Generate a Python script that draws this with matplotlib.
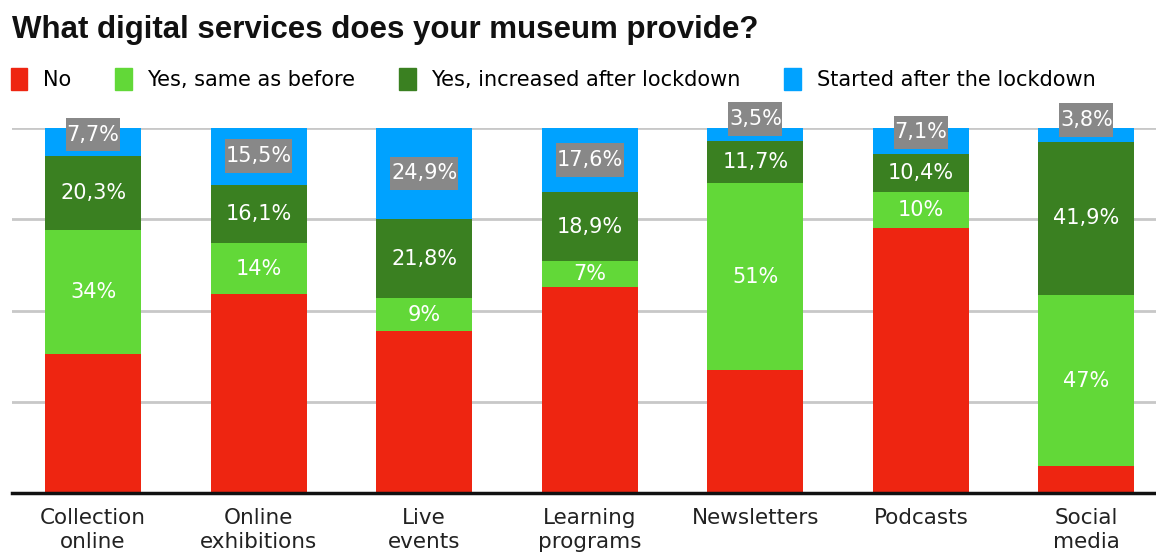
import matplotlib
matplotlib.use("Agg")
import matplotlib.pyplot as plt
from matplotlib.patches import Patch
from matplotlib.path import Path
import numpy as np

# data (percent of museums)
categories = ["Collection\nonline", "Online\nexhibitions", "Live\nevents", "Learning\nprograms",
              "Newsletters", "Podcasts", "Social\nmedia"]
series_names = ["No", "Yes, same as before", "Yes, increased after lockdown", "Started after the lockdown"]
same_before = [34, 14, 9, 7, 51, 10, 47]
increased = [20.3, 16.1, 21.8, 18.9, 11.7, 10.4, 41.9]
started = [7.7, 15.5, 24.9, 17.6, 3.5, 7.1, 3.8]
no = [100 - a - b - c for a, b, c in zip(same_before, increased, started)]

colors = ["#EE2511", "#62D838", "#3A8021", "#00A2FF"]
label_font = "DejaVu Sans"


def fmt(v):
    s = ("%.1f" % v).rstrip("0").rstrip(".")
    return s.replace(".", ",") + "%"


def tag_box(x0, y0, width, height, mutation_size):
    # grey label box: little side padding, more on top/bottom
    px, py = 0.03 * mutation_size, 0.33 * mutation_size
    x0, y0 = x0 - px, y0 - py
    x1, y1 = x0 + width + 2 * px, y0 + height + 2 * py
    return Path([(x0, y0), (x1, y0), (x1, y1), (x0, y1), (x0, y0)],
                [Path.MOVETO, Path.LINETO, Path.LINETO, Path.LINETO, Path.CLOSEPOLY])


fig = plt.figure(figsize=(11.56, 5.54), dpi=100)
ax = fig.add_axes([12 / 1156, 1 - 493 / 554, 1 - 12 / 1156, (493 - 128) / 554])

x = np.arange(len(categories))
width = 0.58
stacks = [no, same_before, increased, started]
bottom = np.zeros(len(categories))
for i, vals in enumerate(stacks):
    vals = np.array(vals, dtype=float)
    ax.bar(x, vals, width, bottom=bottom, color=colors[i], zorder=2)
    for j in range(len(x)):
        if i == 0:
            continue
        mid = bottom[j] + vals[j] / 2
        if i == 3:
            y = max(mid, bottom[j] + 5.9)
            ax.text(x[j], y, fmt(vals[j]), ha="center", va="center", color="white",
                    fontsize=15, family=label_font, zorder=4, clip_on=False,
                    bbox=dict(boxstyle=tag_box, fc="#888888", ec="none"))
        else:
            ax.text(x[j], mid, fmt(vals[j]), ha="center", va="center", color="white",
                    fontsize=15, family=label_font, zorder=4)
    bottom += vals

ax.set_xlim(-0.49, 6.42)
ax.set_ylim(0, 100)
ax.set_yticks([25, 50, 75, 100])
ax.yaxis.grid(True, color="#C8C8C8", linewidth=2, zorder=0)
ax.set_axisbelow(True)
ax.tick_params(axis="y", left=False, labelleft=False)
ax.tick_params(axis="x", bottom=False, pad=7)
ax.set_xticks(x)
ax.set_xticklabels(categories, fontsize=15.5, family=label_font, color="#222222", linespacing=1.25)
for s in ["top", "right", "left"]:
    ax.spines[s].set_visible(False)
ax.spines["bottom"].set_linewidth(2.5)
ax.spines["bottom"].set_color("#111111")
ax.spines["bottom"].set_zorder(5)

fig.text(12 / 1156, 1 - 38 / 554, "What digital services does your museum provide?",
         fontsize=22.5, fontweight="bold", family="Liberation Sans", color="#111111")

handles = [Patch(color=c) for c in colors]
fig.legend(handles, series_names, loc="upper left", bbox_to_anchor=(0.002, 1 - 60 / 554), ncol=4,
           frameon=False, prop=dict(family=label_font, size=15), handlelength=0.8, handleheight=1.2,
           handletextpad=0.75, columnspacing=2.1, borderaxespad=0)

fig.savefig("out.png", dpi=100)
